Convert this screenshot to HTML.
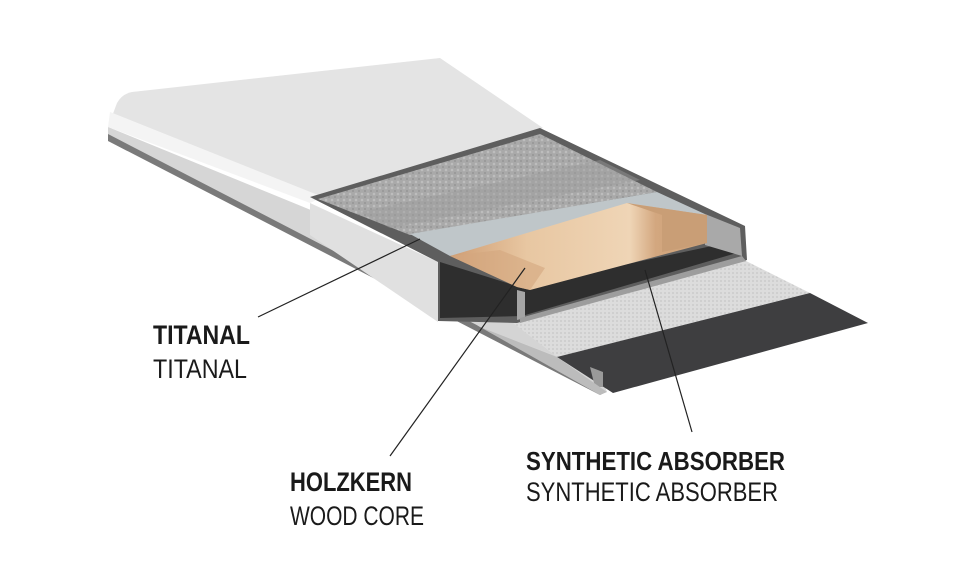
<!DOCTYPE html>
<html><head><meta charset="utf-8"><style>
html,body{margin:0;padding:0;background:#fff;}
svg{display:block;}
text{font-family:"Liberation Sans",sans-serif;fill:#1a1a1a;}
</style></head><body>
<svg width="960" height="564" viewBox="0 0 960 564" xmlns="http://www.w3.org/2000/svg">
<defs>
<pattern id="tex" width="6" height="6" patternUnits="userSpaceOnUse">
<rect width="6" height="6" fill="#a9a9a9"/><circle cx="2" cy="2" r="1.3" fill="#bdbdbd"/><circle cx="5" cy="5" r="1" fill="#969696"/>
</pattern>
<pattern id="grid" width="4" height="4" patternUnits="userSpaceOnUse">
<rect width="4" height="4" fill="#dcdcdc"/><rect width="2" height="2" fill="#cfcfcf"/>
</pattern>
<linearGradient id="wood" x1="0" y1="0" x2="1" y2="0">
<stop offset="0" stop-color="#cf9d73"/><stop offset="0.3" stop-color="#e8c7a2"/><stop offset="0.7" stop-color="#efd5b6"/><stop offset="0.8" stop-color="#d3a77f"/><stop offset="1" stop-color="#cda279"/>
</linearGradient>
</defs>
<polygon points="108,127 438,262 600,372 607,392 108,139" fill="#d6d6d6"/>
<polygon points="108,134 606,392 600,395 108,141" fill="#7a7a7a"/>
<path d="M108,127 L117,103 Q122,94 132,92 L440,58 L543,128 L310,197 Z" fill="#e4e4e4"/>
<path d="M110,112 L323,197 L310,203 L108,127 Z" fill="#f4f4f4"/>
<polygon points="310,203 438,262 438,322 310,235" fill="#e0e0e0"/>
<polygon points="438,300 517,323 560,357 480,327" fill="#d4d4d4"/>
<polygon points="513,323 740,258 810,293 557,357" fill="url(#grid)"/>
<polygon points="557,357 810,293 868,323 613,393" fill="#3e3e40"/>
<polygon points="590,367 603,372 603,387 595,387" fill="#9a9a9a"/>
<polygon points="480,327 557,357 607,392 600,395" fill="#bcbcbc"/>
<polygon points="310,197 540,128 745,226 747,260 517,323 438,321 438,262" fill="#5e5e5e"/>
<polygon points="318,199 540,134 657,192 410,235" fill="url(#tex)"/>
<polygon points="360,212 600,160 640,180 390,228" fill="#9c9c9c" opacity="0.45"/>
<polygon points="410,234 657,192 707,215 450,256" fill="#bfc6c9"/>
<polygon points="440,262 520,287 740,240 740,252 522,316 440,318" fill="#2e2e2e"/>
<polygon points="705,214 740,228 742,256 705,245" fill="#a9a9a9"/>
<polygon points="517,290 525,292 525,318 517,320" fill="#a5a5a5"/>
<polygon points="520,318 742,256 746,261 520,323" fill="#9d9d9d"/>
<polygon points="450,256 627,203 707,215 707,243 530,290 517,287" fill="url(#wood)"/>
<polygon points="627,203 707,215 707,243 662,252 662,215" fill="#c99e76"/>
<polygon points="450,256 517,287 530,290 545,268 500,250" fill="#d4a77f" opacity="0.6"/>
<g stroke="#222" stroke-width="1.2">
<line x1="258" y1="317" x2="420" y2="239"/>
<line x1="390" y1="456" x2="525" y2="268"/>
<line x1="692" y1="432" x2="645" y2="270"/>
</g>
<text x="153" y="344" font-size="27" font-weight="bold" textLength="97" lengthAdjust="spacingAndGlyphs">TITANAL</text>
<text x="153" y="378" font-size="27" textLength="94" lengthAdjust="spacingAndGlyphs">TITANAL</text>
<text x="290" y="491" font-size="27" font-weight="bold" textLength="122" lengthAdjust="spacingAndGlyphs">HOLZKERN</text>
<text x="290" y="525" font-size="27" textLength="134" lengthAdjust="spacingAndGlyphs">WOOD CORE</text>
<text x="526" y="470" font-size="26" font-weight="bold" textLength="259" lengthAdjust="spacingAndGlyphs">SYNTHETIC ABSORBER</text>
<text x="526" y="501" font-size="27" textLength="252" lengthAdjust="spacingAndGlyphs">SYNTHETIC ABSORBER</text>
</svg>
</body></html>
